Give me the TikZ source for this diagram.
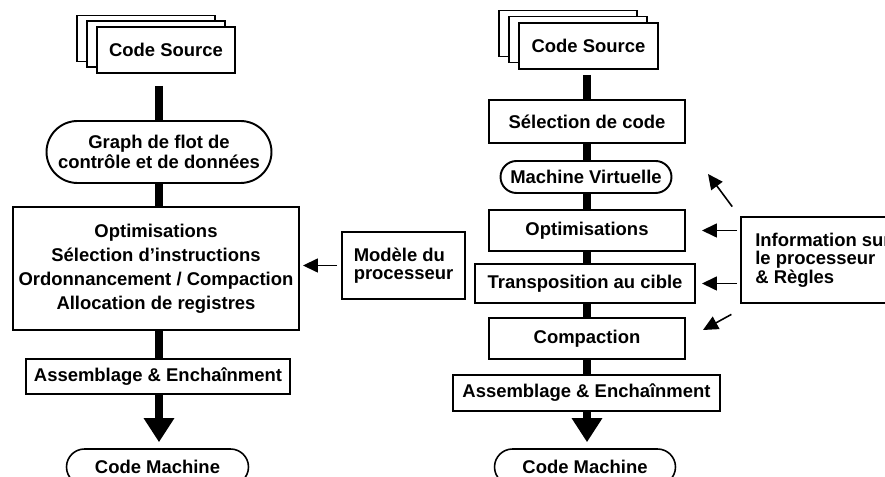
\documentclass[tikz,border=0pt]{standalone}
\usepackage{fontspec}
\setmainfont{Liberation Sans}
\usetikzlibrary{arrows.meta, shapes.misc}

\begin{document}
\begin{tikzpicture}[
    stage/.style={draw, line width=1.1pt, fill=white, align=center, inner sep=2pt,
                  font=\bfseries\fontsize{10.5}{12}\selectfont},
    term/.style={stage, rounded rectangle},
    sheet/.style={draw, line width=0.9pt, fill=white, minimum width=2.77cm,
                  minimum height=0.92cm, inner sep=0pt, font=\bfseries\fontsize{10.5}{12}\selectfont},
    note/.style={draw, line width=1.1pt, fill=white, align=left, inner sep=2pt,
                 font=\bfseries\fontsize{10.5}{10.5}\selectfont},
    spine/.style={line width=0.17cm},
    bigarr/.style={spine, -{Triangle[length=0.48cm, width=0.58cm]}, shorten >=0.12cm},
    ptr/.style={-{Triangle[length=0.3cm, width=0.28cm]}, line width=0.9pt},
]
\clip (0,0) rectangle (17.7,-9.54);

% Left flow
\node[sheet] (srcA3) at (2.92,-0.77) {};
\node[sheet] (srcA2) at (3.12,-0.88) {};
\node[sheet] (srcA) at (3.32,-1.0) {Code Source};
\node[term, minimum width=4.64cm, minimum height=1.24cm,
      font=\bfseries\fontsize{10.5}{11.4}\selectfont] (graph) at (3.18,-3.04)
  {Graph de flot de\\contrôle et de données};
\node[stage, minimum width=5.72cm, minimum height=2.46cm,
      font=\bfseries\fontsize{10.5}{13.7}\selectfont] (big) at (3.12,-5.37)
  {Optimisations\\Sélection d’instructions\\Ordonnancement / Compaction\\Allocation de registres};
\node[stage, minimum width=5.28cm, minimum height=0.70cm] (asmA) at (3.16,-7.53) {Assemblage \& Enchaînment};
\node[term, line width=0.9pt, minimum width=3.78cm, minimum height=0.72cm] (cmA) at (3.15,-9.34) {Code Machine};

% Processor model
\node[note, minimum width=2.46cm, minimum height=1.34cm] (modele) at (8.07,-5.31) {Modèle du\\processeur};

% Right flow
\node[sheet] (srcB3) at (11.36,-0.67) {};
\node[sheet] (srcB2) at (11.56,-0.79) {};
\node[sheet] (srcB) at (11.77,-0.92) {Code Source};
\node[stage, minimum width=3.92cm, minimum height=0.86cm] (sel) at (11.74,-2.43) {Sélection de code};
\node[term, minimum width=3.56cm, minimum height=0.64cm] (mv) at (11.72,-3.54) {Machine Virtuelle};
\node[stage, minimum width=3.92cm, minimum height=0.82cm] (opt) at (11.74,-4.61) {Optimisations};
\node[stage, minimum width=4.4cm, minimum height=0.78cm] (trans) at (11.7,-5.67) {Transposition au cible};
\node[stage, minimum width=3.92cm, minimum height=0.82cm] (comp) at (11.74,-6.77) {Compaction};
\node[stage, minimum width=5.34cm, minimum height=0.72cm] (asmB) at (11.73,-7.86) {Assemblage \& Enchaînment};
\node[term, line width=0.9pt, minimum width=3.76cm, minimum height=0.72cm] (cmB) at (11.7,-9.34) {Code Machine};

% Processor information
\node[note, anchor=west, minimum width=3.28cm, minimum height=1.72cm] (info) at (14.8,-5.2)
  {Information sur\\le processeur\\\& Règles};
\coordinate (upA) at (14.16,-3.48);
\coordinate (dnA) at (14.06,-6.6);

% Left spine
\draw[spine, shorten <=0.24cm] (graph.north |- srcA.south) -- (graph.north);
\draw[spine] (graph.south) -- (graph.south |- big.north);
\draw[spine] (graph.south |- big.south) -- (graph.south |- asmA.north);
\draw[bigarr] (graph.south |- asmA.south) -- (graph.south |- cmA.north);

% Right spine
\draw[spine, shorten <=0.1cm] (sel.north |- srcB.south) -- (sel.north);
\draw[spine] (sel.south) -- (sel.south |- mv.north);
\draw[spine] (sel.south |- mv.south) -- (sel.south |- opt.north);
\draw[spine] (sel.south |- opt.south) -- (sel.south |- trans.north);
\draw[spine] (sel.south |- trans.south) -- (sel.south |- comp.north);
\draw[spine] (sel.south |- comp.south) -- (sel.south |- asmB.north);
\draw[bigarr] (sel.south |- asmB.south) -- (sel.south |- cmB.north);

% Side inputs
\draw[ptr, shorten <=0.08cm, shorten >=0.06cm] (modele.west) -- (modele.west -| big.east);
\draw[ptr, shorten <=0.06cm] ([shift={(-0.12,0.14)}]info.north west) -- (upA);
\draw[ptr, shorten <=0.06cm, shorten >=0.32cm] (info.west |- opt.east) -- (opt.east);
\draw[ptr, shorten <=0.06cm, shorten >=0.12cm] (info.west |- trans.east) -- (trans.east);
\draw[ptr, shorten <=0.06cm] ([shift={(-0.12,-0.18)}]info.south west) -- (dnA);
\end{tikzpicture}
\end{document}
